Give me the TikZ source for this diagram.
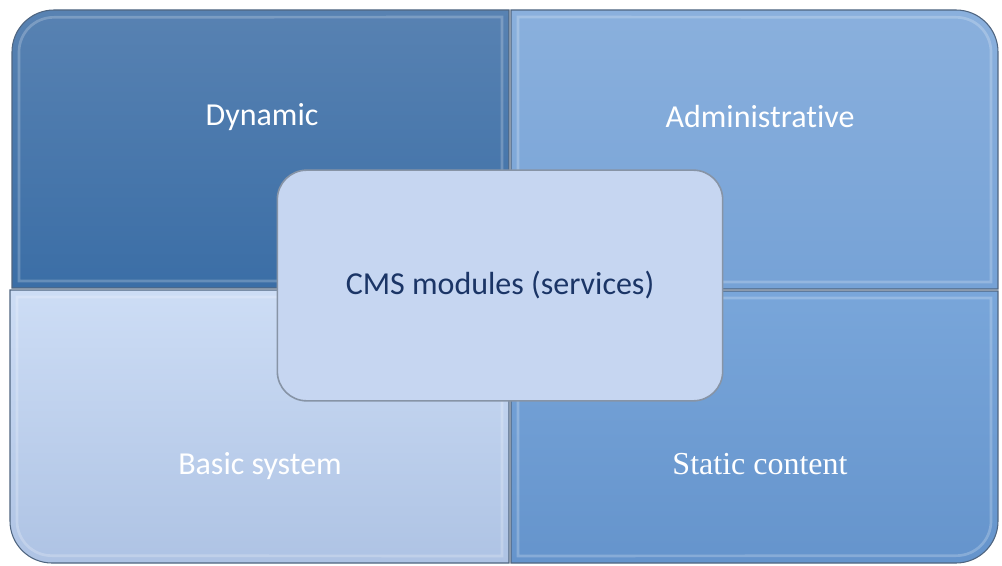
\documentclass[tikz,border=0pt]{standalone}
\usepackage{fontspec}
\setmainfont{Carlito}[Ligatures=NoCommon]
\newfontfamily\timesfont{Liberation Serif}
\usetikzlibrary{positioning}
\definecolor{darktop}{HTML}{5882B2}
\definecolor{darkbot}{HTML}{3B6EA6}
\definecolor{midtop}{HTML}{8AB0DD}
\definecolor{midbot}{HTML}{76A2D6}
\definecolor{paletop}{HTML}{CDDDF5}
\definecolor{palebot}{HTML}{AEC3E4}
\definecolor{deeptop}{HTML}{79A6DA}
\definecolor{deepbot}{HTML}{6594CC}
\definecolor{corefill}{HTML}{C6D6F1}
\definecolor{coreedge}{HTML}{8794A6}
\definecolor{corenavy}{HTML}{1B3566}
\definecolor{edgeline}{HTML}{4F6580}

\begin{document}
\begin{tikzpicture}[
  x=0.75pt, y=0.75pt,
  quad/.style={draw=edgeline, line width=0.8pt},
  bevel/.style={draw=white, draw opacity=0.22, line width=2pt},
  label/.style={text=white, font=\fontsize{24}{28}\selectfont},
  core/.style={draw=coreedge, line width=1.2pt, fill=corefill,
               rounded corners=22pt, minimum width=334pt,
               minimum height=173pt, align=center,
               text=corenavy, font=\fontsize{24}{28}\selectfont}
]
  \useasboundingbox[fill=white] (0,0) rectangle (1002,565);

  % four quadrants
  \path[quad, top color=darktop, bottom color=darkbot]
    (509,277) -- (12,277) -- (12,513) arc[start angle=180, end angle=90, radius=31.5pt]
    -- (509,555) -- cycle;
  \path[quad, top color=midtop, bottom color=midbot]
    (511,276) -- (998,276) -- (998,513) arc[start angle=0, end angle=90, radius=31.5pt]
    -- (511,555) -- cycle;
  \path[quad, top color=paletop, bottom color=palebot]
    (509,275) -- (10,275) -- (10,44) arc[start angle=180, end angle=270, radius=31.5pt]
    -- (509,2) -- cycle;
  \path[quad, top color=deeptop, bottom color=deepbot]
    (511,274) -- (998,274) -- (998,44) arc[start angle=0, end angle=-90, radius=31.5pt]
    -- (511,2) -- cycle;

  % bevel highlights
  \path[bevel] (502,284) -- (19,284) -- (19,513) arc[start angle=180, end angle=90, radius=26pt]
    -- (502,548) -- cycle;
  \path[bevel] (518,283) -- (991,283) -- (991,513) arc[start angle=0, end angle=90, radius=26pt]
    -- (518,548) -- cycle;
  \path[bevel] (502,268) -- (17,268) -- (17,44) arc[start angle=180, end angle=270, radius=26pt]
    -- (502,9) -- cycle;
  \path[bevel] (518,267) -- (991,267) -- (991,44) arc[start angle=0, end angle=-90, radius=26pt]
    -- (518,9) -- cycle;

  \node[label] (dyn)    at (262,448) {Dynamic};
  \node[label] (admin)  at (760,448) {Administrative};
  \node[label] (basic)  at (260,99) {Basic system};
  \node[label, font=\timesfont\fontsize{24}{28}\selectfont] (static) at (760,101) {Static content};

  \node[core] (cms) at (500,279.5) {CMS modules (services)};
\end{tikzpicture}
\end{document}
